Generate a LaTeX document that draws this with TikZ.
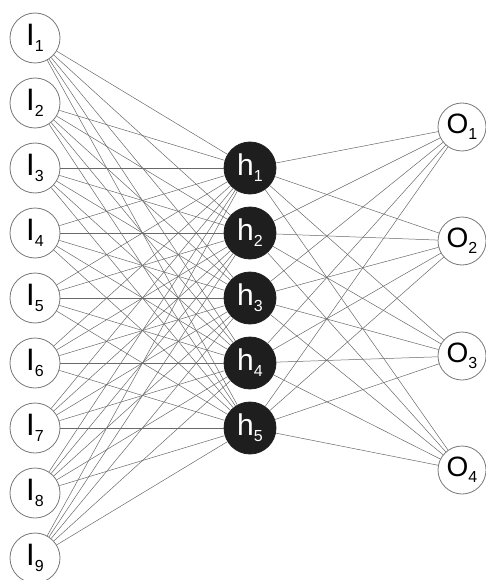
\documentclass[tikz,border=0pt]{standalone}
\usepackage{fontspec}
\setmainfont{Liberation Sans}
\definecolor{edgecol}{RGB}{105,105,105}
\definecolor{ringcol}{RGB}{120,120,120}
\definecolor{hidfill}{RGB}{30,30,30}
\newcommand\nlab[3]{{\fontsize{#3}{#3}\selectfont #1}\raisebox{-6pt}{\fontsize{16}{16}\selectfont #2}}
\begin{document}
\begin{tikzpicture}[x=1pt,y=-1pt,
  inneuron/.style={circle, draw=ringcol, line width=0.8pt, fill=white, minimum size=50pt, inner sep=0pt},
  hidneuron/.style={circle, draw=hidfill, line width=0.8pt, fill=hidfill, text=white, minimum size=52pt, inner sep=0pt},
  outneuron/.style={circle, draw=ringcol, line width=0.8pt, fill=white, minimum size=48pt, inner sep=0pt},
  link/.style={draw=edgecol, line width=0.5pt}]
\useasboundingbox (0,0) rectangle (486,580);
\foreach \i in {1,...,9}{
  \node[inneuron] (I\i) at (35,{38+65*(\i-1)}) {\nlab{I}{\i}{31}};
}
\foreach \j in {1,...,5}{
  \node[hidneuron] (H\j) at (250,{168+65*(\j-1)}) {\nlab{h}{\j}{30}};
}
\node[outneuron] (O1) at (462,127) {\nlab{O}{1}{28}};
\node[outneuron] (O2) at (462,241) {\nlab{O}{2}{28}};
\node[outneuron] (O3) at (462,356) {\nlab{O}{3}{28}};
\node[outneuron] (O4) at (462,470) {\nlab{O}{4}{28}};
\foreach \i in {1,...,9}{
  \foreach \j in {1,...,5}{
    \draw[link] (I\i) -- (H\j);
  }
}
\foreach \j in {1,...,5}{
  \foreach \k in {1,...,4}{
    \draw[link] (H\j) -- (O\k);
  }
}
\end{tikzpicture}
\end{document}
